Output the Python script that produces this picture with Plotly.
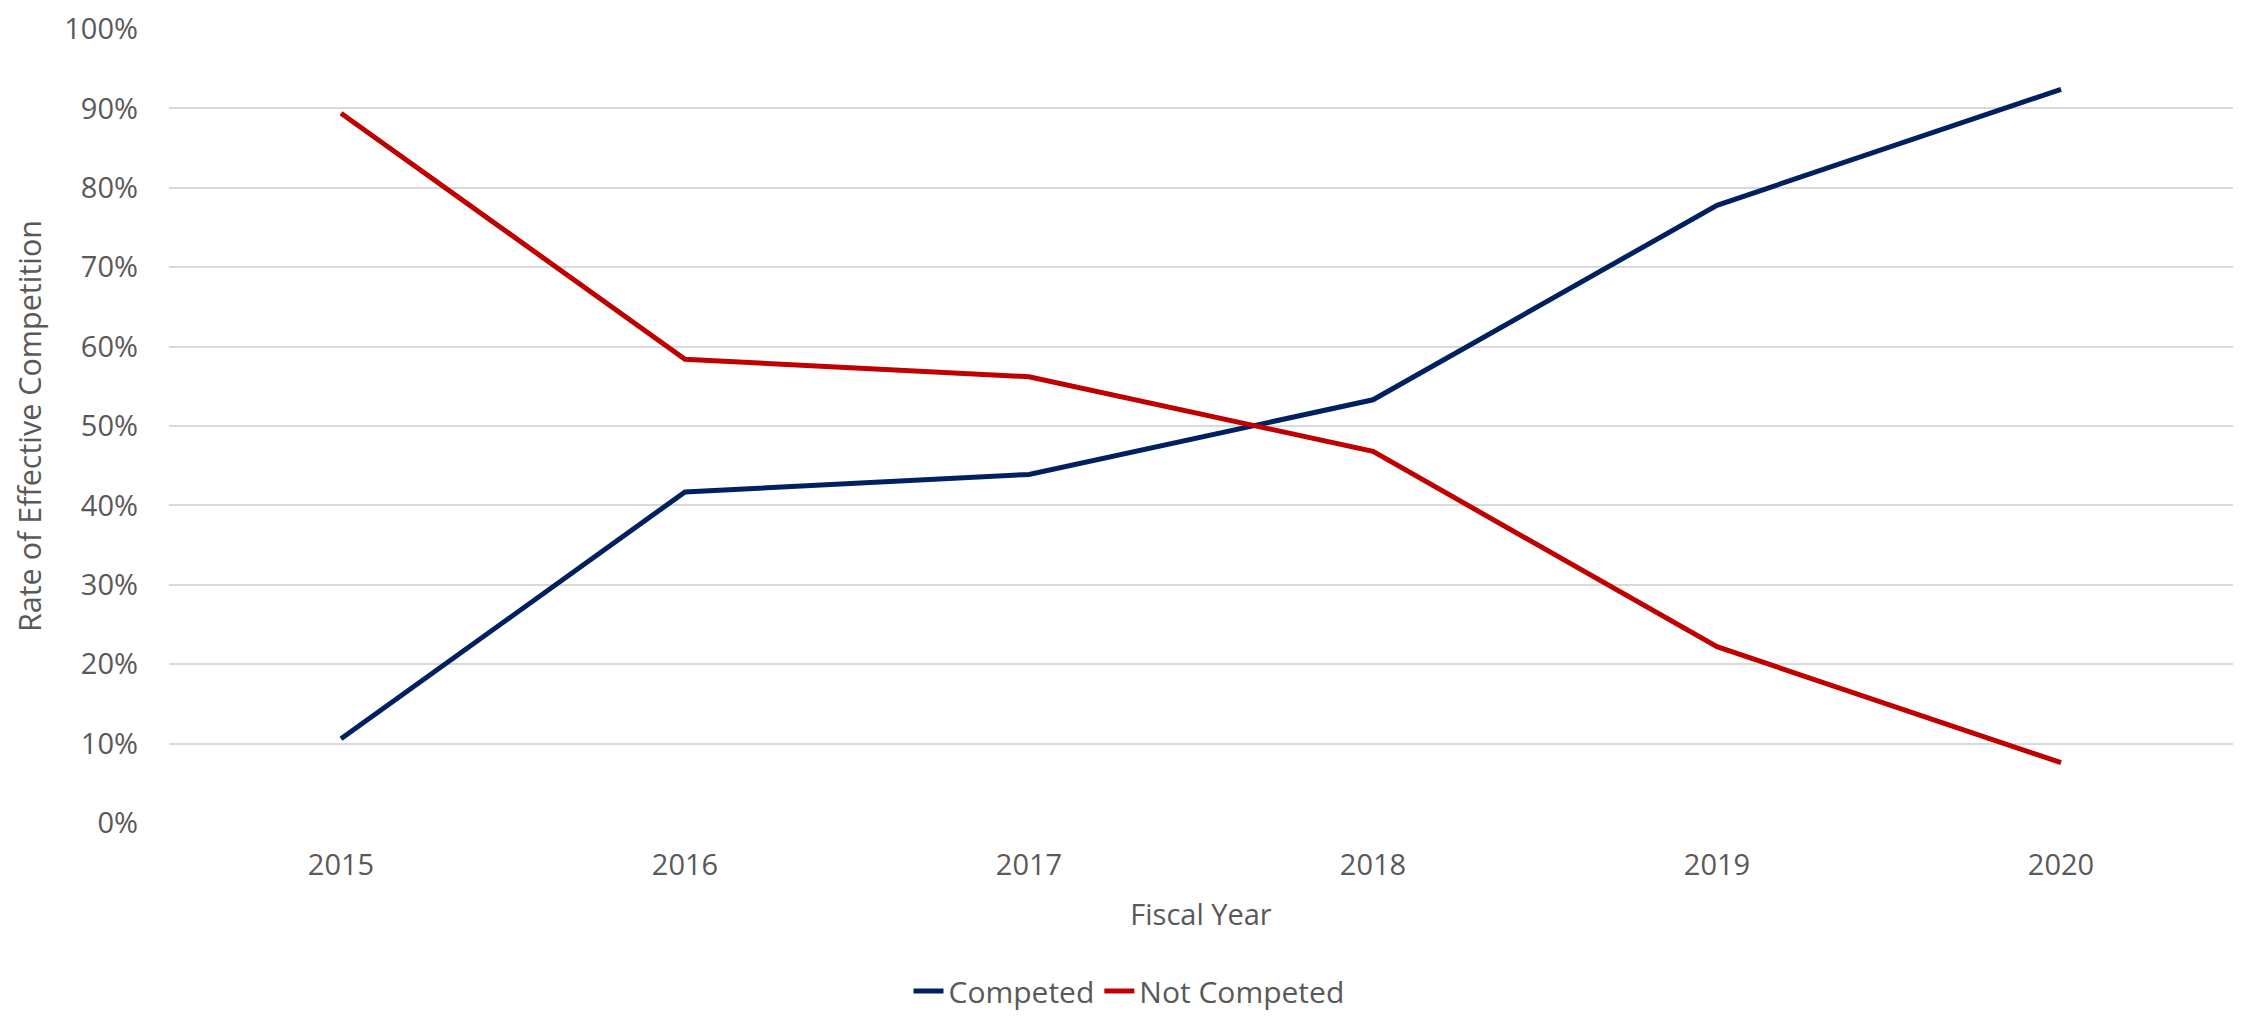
import plotly.graph_objects as go

years = ["2015", "2016", "2017", "2018", "2019", "2020"]
competed = [10.6, 41.7, 43.9, 53.3, 77.8, 92.4]
not_competed = [89.4, 58.4, 56.2, 46.8, 22.2, 7.6]
y_ticks = [0, 10, 20, 30, 40, 50, 60, 70, 80, 90, 100]
y_tick_labels = [f"{v}%" for v in y_ticks]

# page body has an 8px default margin; size the figure to fit the window exactly
W, H = 2239, 1003
ml, mr, mt, mb = 161, 14, 21, 188

fig = go.Figure()
fig.add_trace(go.Scatter(x=years, y=competed, mode="lines", name="Competed",
                         line=dict(color="#002060", width=5)))
fig.add_trace(go.Scatter(x=years, y=not_competed, mode="lines", name="Not Competed",
                         line=dict(color="#C00000", width=5)))

txt = "#595959"
fig.update_layout(
    width=W, height=H,
    margin=dict(l=ml, r=mr, t=mt, b=mb, autoexpand=False),
    paper_bgcolor="white", plot_bgcolor="white",
    font=dict(family="Open Sans", size=29, color=txt),
    showlegend=True,
    legend=dict(orientation="h", x=(1121 - ml) / (W - ml - mr), xanchor="center",
                y=-(983 - (H - mb)) / (H - mt - mb), yanchor="middle",
                font=dict(size=30, color=txt), itemwidth=30,
                tracegroupgap=0, bgcolor="rgba(0,0,0,0)"),
    xaxis=dict(type="category", range=[-0.5, 5.5], showgrid=False, zeroline=False,
               showline=False, ticks="", ticklabelstandoff=22,
               tickfont=dict(size=29, color=txt),
               title=dict(text="Fiscal Year", font=dict(size=29, color=txt), standoff=22)),
    yaxis=dict(range=[0, 100], tickvals=y_ticks, ticktext=y_tick_labels,
               showgrid=True, gridcolor="#D9D9D9", gridwidth=2,
               zeroline=False, showline=False, ticks="", ticklabelstandoff=30,
               tickfont=dict(size=29, color=txt),
               title=dict(text="Rate of Effective Competition",
                          font=dict(size=30.5, color=txt), standoff=16)),
)

fig.write_html("out.html")
